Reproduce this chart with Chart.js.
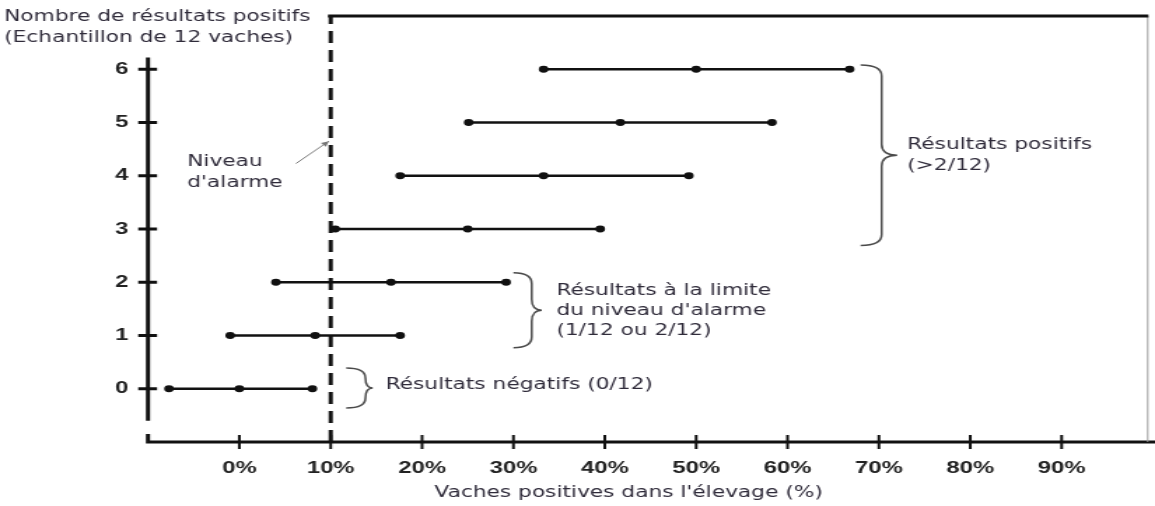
<!DOCTYPE html>
<html>
<head>
<meta charset="utf-8">
<script src="https://cdn.jsdelivr.net/npm/chart.js@4.4.1/dist/chart.umd.min.js"></script>
<style>
  html, body { margin: 0; padding: 0; background: #fff; }
</style>
</head>
<body>
<!-- le graphique d'origine est étiré horizontalement : on dessine étroit puis on étire -->
<canvas id="graphique" width="825" height="506" style="display:block;width:1155px;height:506px"></canvas>
<script>
/* DONNÉES */
const resultats = [0, 1, 2, 3, 4, 5, 6];                       // nombre de résultats positifs
const borneBasse = [-7.7, -1.0, 4.0, 10.5, 17.6, 25.1, 33.3];   // % vaches positives
const valeurCentrale = [0, 8.3, 16.6, 25.0, 33.3, 41.7, 50.0];
const borneHaute = [8.0, 17.6, 29.2, 39.5, 49.2, 58.3, 66.8];
const ticksX = [0, 10, 20, 30, 40, 50, 60, 70, 80, 90];
const ticksY = [0, 1, 2, 3, 4, 5, 6];
const niveauAlarme = 10;
/* FIM DONNÉES */

const texte = '#2f2b3a';
const policeNote = '15.5px "DejaVu Sans"';

const datasets = resultats.map(function (r, i) {
    return {
        data: [
            { x: borneBasse[i], y: r },
            { x: valeurCentrale[i], y: r },
            { x: borneHaute[i], y: r }
        ],
        borderColor: '#111',
        backgroundColor: '#111',
        borderWidth: 2.5,
        pointRadius: 2.2,
        pointHoverRadius: 2.2
    };
});

// ligne pointillée du niveau d'alarme
datasets.push({
    data: [{ x: niveauAlarme, y: -1 }, { x: niveauAlarme, y: 7 }],
    borderColor: '#111',
    borderWidth: 3,
    borderDash: [12, 7],
    pointRadius: 0,
    clip: false
});
// trait du haut
datasets.push({
    data: [{ x: niveauAlarme - 0.3, y: 7 }, { x: 99.5, y: 7 }],
    borderColor: '#111',
    borderWidth: 3,
    pointRadius: 0,
    clip: false
});

function accolade(ctx, x0, xm, xt, yTop, yBot) {
    const ym = (yTop + yBot) / 2;
    const r = Math.min(11, (yBot - yTop) / 4);
    ctx.beginPath();
    ctx.moveTo(x0, yTop);
    ctx.quadraticCurveTo(xm, yTop, xm, yTop + r);
    ctx.lineTo(xm, ym - r);
    ctx.quadraticCurveTo(xm, ym, xt, ym);
    ctx.quadraticCurveTo(xm, ym, xm, ym + r);
    ctx.lineTo(xm, yBot - r);
    ctx.quadraticCurveTo(xm, yBot, x0, yBot);
    ctx.stroke();
}

const decor = {
    id: 'decor',
    beforeDatasetsDraw(chart) {
        const ctx = chart.ctx;
        const sx = chart.scales.x, sy = chart.scales.y;
        const gauche = sx.getPixelForValue(-10);
        const bas = sy.getPixelForValue(-1);
        ctx.save();
        ctx.strokeStyle = '#111';
        ctx.lineCap = 'butt';

        // axe vertical
        ctx.lineWidth = 3;
        ctx.beginPath();
        ctx.moveTo(gauche, sy.getPixelForValue(6.22));
        ctx.lineTo(gauche, sy.getPixelForValue(-0.6));
        ctx.stroke();

        // axe horizontal
        ctx.beginPath();
        ctx.moveTo(gauche, sy.getPixelForValue(-0.85));
        ctx.lineTo(gauche, bas);
        ctx.lineTo(chart.width, bas);
        ctx.stroke();

        // graduations
        ctx.lineWidth = 2;
        ticksX.forEach(function (v) {
            const p = sx.getPixelForValue(v);
            ctx.beginPath();
            ctx.moveTo(p, bas - 7);
            ctx.lineTo(p, bas + 7);
            ctx.stroke();
        });
        ctx.lineWidth = 3;
        ticksY.forEach(function (v) {
            const p = sy.getPixelForValue(v);
            ctx.beginPath();
            ctx.moveTo(gauche - 7, p);
            ctx.lineTo(gauche + 6.5, p);
            ctx.stroke();
        });

        // bord droit
        ctx.strokeStyle = '#9a9a9a';
        ctx.lineWidth = 1;
        ctx.beginPath();
        ctx.moveTo(sx.getPixelForValue(99.5) - 0.5, sy.getPixelForValue(7));
        ctx.lineTo(sx.getPixelForValue(99.5) - 0.5, bas);
        ctx.stroke();
        ctx.restore();
    },
    afterDraw(chart) {
        const ctx = chart.ctx;
        const sx = chart.scales.x, sy = chart.scales.y;
        const X = v => sx.getPixelForValue(v);
        const Y = v => sy.getPixelForValue(v);
        ctx.save();

        // accolades
        ctx.strokeStyle = '#4a4a4a';
        ctx.lineWidth = 1.5;
        accolade(ctx, X(68.0), X(70.3), X(72.0), Y(6.08), Y(2.69));
        accolade(ctx, X(30.0), X(32.0), X(33.1), Y(2.18), Y(0.77));
        accolade(ctx, X(11.7), X(13.8), X(14.6), Y(0.39), Y(-0.36));

        // flèche du niveau d'alarme
        const x1 = X(6.2), y1 = Y(4.23), x2 = X(9.8), y2 = Y(4.65);
        ctx.strokeStyle = '#777';
        ctx.fillStyle = '#777';
        ctx.lineWidth = 1;
        ctx.beginPath();
        ctx.moveTo(x1, y1);
        ctx.lineTo(x2, y2);
        ctx.stroke();
        const a = Math.atan2(y2 - y1, x2 - x1);
        ctx.beginPath();
        ctx.moveTo(x2, y2);
        ctx.lineTo(x2 - 6 * Math.cos(a - 0.45), y2 - 6 * Math.sin(a - 0.45));
        ctx.lineTo(x2 - 6 * Math.cos(a + 0.45), y2 - 6 * Math.sin(a + 0.45));
        ctx.closePath();
        ctx.fill();

        // textes
        ctx.fillStyle = texte;
        ctx.font = policeNote;
        ctx.textBaseline = 'middle';
        ctx.textAlign = 'left';
        ctx.fillText('Résultats positifs', X(73.1), Y(4.57));
        ctx.fillText('(>2/12)', X(73.1), Y(4.19));
        ctx.fillText('Résultats à la limite', X(34.7), Y(1.84));
        ctx.fillText("du niveau d'alarme", X(34.7), Y(1.47));
        ctx.fillText('(1/12 ou 2/12)', X(34.7), Y(1.09));
        ctx.fillText('Résultats négatifs (0/12)', X(16.0), Y(0.075));
        ctx.fillText('Niveau', X(-5.7), Y(4.25));
        ctx.fillText("d'alarme", X(-5.7), Y(3.87));

        // titres des axes
        ctx.fillText('Nombre de résultats positifs', 3, 17);
        ctx.fillText('(Echantillon de 12 vaches)', 3, 38);
        ctx.textAlign = 'center';
        ctx.fillText("Vaches positives dans l'élevage (%)", 449, 493);
        ctx.restore();
    }
};

new Chart(document.getElementById('graphique'), {
    type: 'line',
    data: { datasets: datasets },
    options: {
        responsive: false,
        animation: false,
        events: [],
        layout: { padding: { left: 0, right: 2.1, top: 16, bottom: 0 } },
        plugins: { legend: { display: false }, tooltip: { enabled: false } },
        scales: {
            x: {
                type: 'linear',
                min: -10,
                max: 99.5,
                border: { display: false },
                grid: { display: false, drawTicks: false },
                afterBuildTicks: function (s) { s.ticks = ticksX.map(v => ({ value: v })); },
                afterFit: function (s) {
                    s.height = 64;
                    s.paddingLeft = 0;
                    s.paddingRight = 0;
                },
                ticks: {
                    autoSkip: false,
                    maxRotation: 0,
                    padding: 16,
                    color: '#222',
                    font: { family: '"Liberation Sans"', size: 17, weight: 'bold' },
                    callback: v => v + '%'
                }
            },
            y: {
                type: 'linear',
                min: -1,
                max: 7,
                border: { display: false },
                grid: { display: false, drawTicks: false },
                afterBuildTicks: function (s) { s.ticks = ticksY.map(v => ({ value: v })); },
                afterFit: function (s) {
                    s.width = 105.7;
                    s.paddingTop = 0;
                    s.paddingBottom = 0;
                },
                ticks: {
                    padding: 14,
                    color: '#222',
                    font: { family: '"Liberation Sans"', size: 17, weight: 'bold' }
                }
            }
        }
    },
    plugins: [decor]
});
</script>
</body>
</html>
